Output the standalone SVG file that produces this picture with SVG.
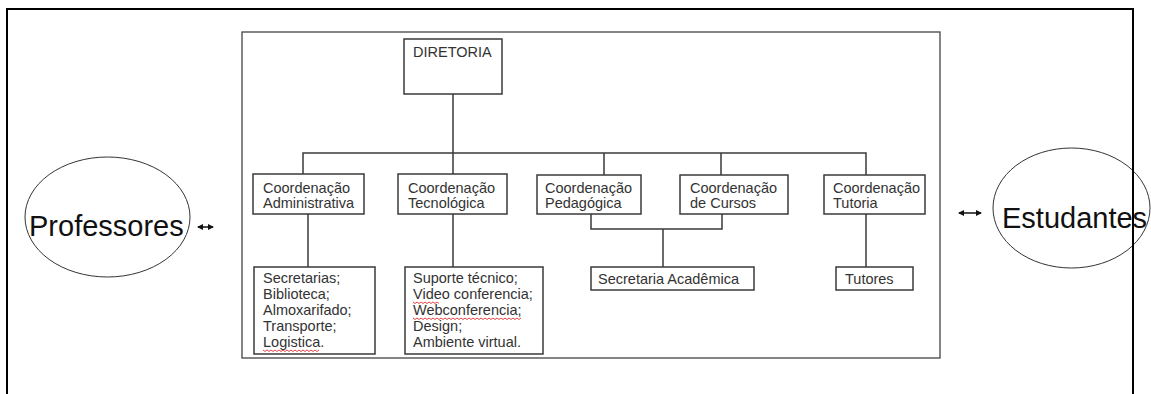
<svg xmlns="http://www.w3.org/2000/svg" width="1151" height="394" viewBox="0 0 1151 394">
<style>
.box{fill:#fff;stroke:#3a3a3a;stroke-width:1.5}
.lbl{font-family:"Liberation Sans",Arial,sans-serif;font-size:14.5px;fill:#333}
.big{font-family:"Liberation Sans",Arial,sans-serif;font-size:29px;fill:#111}
.ln{fill:none;stroke:#3a3a3a;stroke-width:1.5}
.ell{fill:#fff;stroke:#333;stroke-width:1}
.sq{fill:none;stroke:#e03030;stroke-width:0.9}
</style>
<defs>
<marker id="ah" viewBox="0 0 6 6" refX="5" refY="3" markerWidth="6" markerHeight="6" markerUnits="userSpaceOnUse" orient="auto-start-reverse">
<path d="M0,0 L6,3 L0,6 z" fill="#111"/>
</marker>
</defs>
<rect width="1151" height="394" fill="#fff"/>
<rect id="frame-inner" x="242" y="32" width="698" height="326" fill="none" stroke="#444" stroke-width="1.3"/>
<g id="connectors">
<path class="ln" d="M453,94 V174 M303,174 V153 H866 V175 M604,153 V175 M721,153 V175"/>
<path class="ln" d="M308,214 V267 M453,214 V267 M591,214 V229 H722 V214 M663,229 V267 M866,214 V267"/>
<path d="M198,227 H213" stroke="#111" stroke-width="1.5" marker-start="url(#ah)" marker-end="url(#ah)"/>
<path d="M959,213 H981" stroke="#111" stroke-width="1.5" marker-start="url(#ah)" marker-end="url(#ah)"/>
</g>
<g id="diretoria">
<rect class="box" x="404" y="39" width="98" height="55"/>
<text class="lbl" x="413" y="57">DIRETORIA</text>
</g>
<g id="coord-admin">
<rect class="box" x="253" y="174" width="111" height="40"/>
<text class="lbl" x="263" y="193">Coordenação</text>
<text class="lbl" x="263" y="208">Administrativa</text>
</g>
<g id="coord-tec">
<rect class="box" x="398" y="174" width="109" height="40"/>
<text class="lbl" x="408" y="193">Coordenação</text>
<text class="lbl" x="408" y="208">Tecnológica</text>
</g>
<g id="coord-ped">
<rect class="box" x="537" y="175" width="104" height="39"/>
<text class="lbl" x="545" y="193">Coordenação</text>
<text class="lbl" x="545" y="208">Pedagógica</text>
</g>
<g id="coord-cursos">
<rect class="box" x="680" y="175" width="108" height="39"/>
<text class="lbl" x="690" y="193">Coordenação</text>
<text class="lbl" x="690" y="208">de Cursos</text>
</g>
<g id="coord-tutoria">
<rect class="box" x="824" y="175" width="101" height="39"/>
<text class="lbl" x="833" y="193">Coordenação</text>
<text class="lbl" x="833" y="208">Tutoria</text>
</g>
<g id="secretarias">
<rect class="box" x="254" y="267" width="121" height="87"/>
<text class="lbl" x="263" y="283">Secretarias;</text>
<text class="lbl" x="263" y="299">Biblioteca;</text>
<text class="lbl" x="263" y="315">Almoxarifado;</text>
<text class="lbl" x="263" y="331">Transporte;</text>
<text class="lbl" x="263" y="347">Logistica.</text>
<path class="sq" d="M263,350 l2,1.5 l2,-1.5 l2,1.5 l2,-1.5 l2,1.5 l2,-1.5 l2,1.5 l2,-1.5 l2,1.5 l2,-1.5 l2,1.5 l2,-1.5 l2,1.5 l2,-1.5 l2,1.5 l2,-1.5 l2,1.5 l2,-1.5 l2,1.5 l2,-1.5 l2,1.5 l2,-1.5 l2,1.5 l2,-1.5 l2,1.5 l2,-1.5 l2,1.5 l2,-1.5"/>
</g>
<g id="suporte">
<rect class="box" x="405" y="267" width="138" height="87"/>
<text class="lbl" x="413" y="283">Suporte técnico;</text>
<text class="lbl" x="413" y="299">Video conferencia;</text>
<text class="lbl" x="413" y="315">Webconferencia;</text>
<text class="lbl" x="413" y="331">Design;</text>
<text class="lbl" x="413" y="347">Ambiente virtual.</text>
<path class="sq" d="M413,302 l2,1.5 l2,-1.5 l2,1.5 l2,-1.5 l2,1.5 l2,-1.5 l2,1.5 l2,-1.5 l2,1.5 l2,-1.5 l2,1.5 l2,-1.5 l2,1.5"/>
<path class="sq" d="M413,318 l2,1.5 l2,-1.5 l2,1.5 l2,-1.5 l2,1.5 l2,-1.5 l2,1.5 l2,-1.5 l2,1.5 l2,-1.5 l2,1.5 l2,-1.5 l2,1.5 l2,-1.5 l2,1.5 l2,-1.5 l2,1.5 l2,-1.5 l2,1.5 l2,-1.5 l2,1.5 l2,-1.5 l2,1.5 l2,-1.5 l2,1.5 l2,-1.5 l2,1.5 l2,-1.5 l2,1.5 l2,-1.5 l2,1.5 l2,-1.5 l2,1.5 l2,-1.5 l2,1.5 l2,-1.5 l2,1.5 l2,-1.5 l2,1.5 l2,-1.5 l2,1.5 l2,-1.5 l2,1.5 l2,-1.5 l2,1.5 l2,-1.5 l2,1.5 l2,-1.5 l2,1.5 l2,-1.5 l2,1.5 l2,-1.5 l2,1.5 l2,-1.5"/>
</g>
<g id="secretaria-academica">
<rect class="box" x="591" y="267" width="163" height="23"/>
<text class="lbl" x="598" y="284">Secretaria Acadêmica</text>
</g>
<g id="tutores">
<rect class="box" x="836" y="267" width="77" height="23"/>
<text class="lbl" x="845" y="284">Tutores</text>
</g>
<g id="professores">
<ellipse class="ell" cx="107.5" cy="217" rx="82.5" ry="60"/>
<text class="big" x="29" y="236">Professores</text>
</g>
<g id="estudantes">
<ellipse class="ell" cx="1071.5" cy="208" rx="78.5" ry="60"/>
<text class="big" x="1002" y="228">Estudantes</text>
</g>
<path id="frame-outer" d="M7,394 V9 H1133 V394" fill="none" stroke="#000" stroke-width="2"/>
</svg>
